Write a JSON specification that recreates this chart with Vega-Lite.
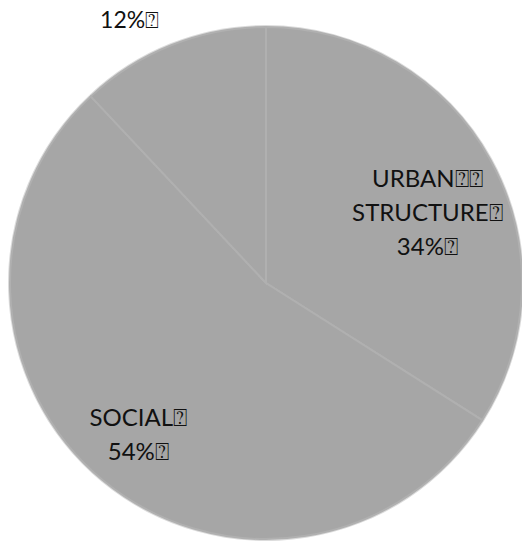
{
  "$schema": "https://vega.github.io/schema/vega-lite/v6.json",
  "width": 532,
  "height": 566,
  "padding": 0,
  "autosize": {"type": "none"},
  "background": "white",
  "config": {"view": {"stroke": null}},
  "data": {"values": [
    {"cat": "URBAN STRUCTURE", "rank": 1, "share": 34, "label": "URBAN⍰⍰\nSTRUCTURE⍰\n34%⍰", "outside": ""},
    {"cat": "SOCIAL", "rank": 2, "share": 54, "label": "SOCIAL⍰\n54%⍰", "outside": ""},
    {"cat": "OTHER", "rank": 3, "share": 12, "label": "", "outside": "12%⍰"}
  ]},
  "encoding": {
    "theta": {"field": "share", "type": "quantitative", "stack": true},
    "order": {"field": "rank", "type": "ordinal"}
  },
  "layer": [
    {
      "mark": {"type": "arc", "radius": 258, "fill": "#dcdcdc", "stroke": null}
    },
    {
      "mark": {"type": "arc", "radius": 256, "fill": "#a6a6a6", "stroke": "#b0b0b0", "strokeWidth": 2}
    },
    {
      "mark": {"type": "text", "radius": 191, "font": "Lato", "fontSize": 24, "lineHeight": 34, "fill": "#111111", "align": "center", "baseline": "middle", "lineBreak": "\n", "dx": -6, "dy": -11},
      "encoding": {"text": {"field": "label"}}
    },
    {
      "mark": {"type": "text", "radius": 290, "font": "Lato", "fontSize": 23, "fill": "#111111", "align": "right", "baseline": "middle", "dy": 8},
      "encoding": {"text": {"field": "outside"}}
    }
  ]
}
